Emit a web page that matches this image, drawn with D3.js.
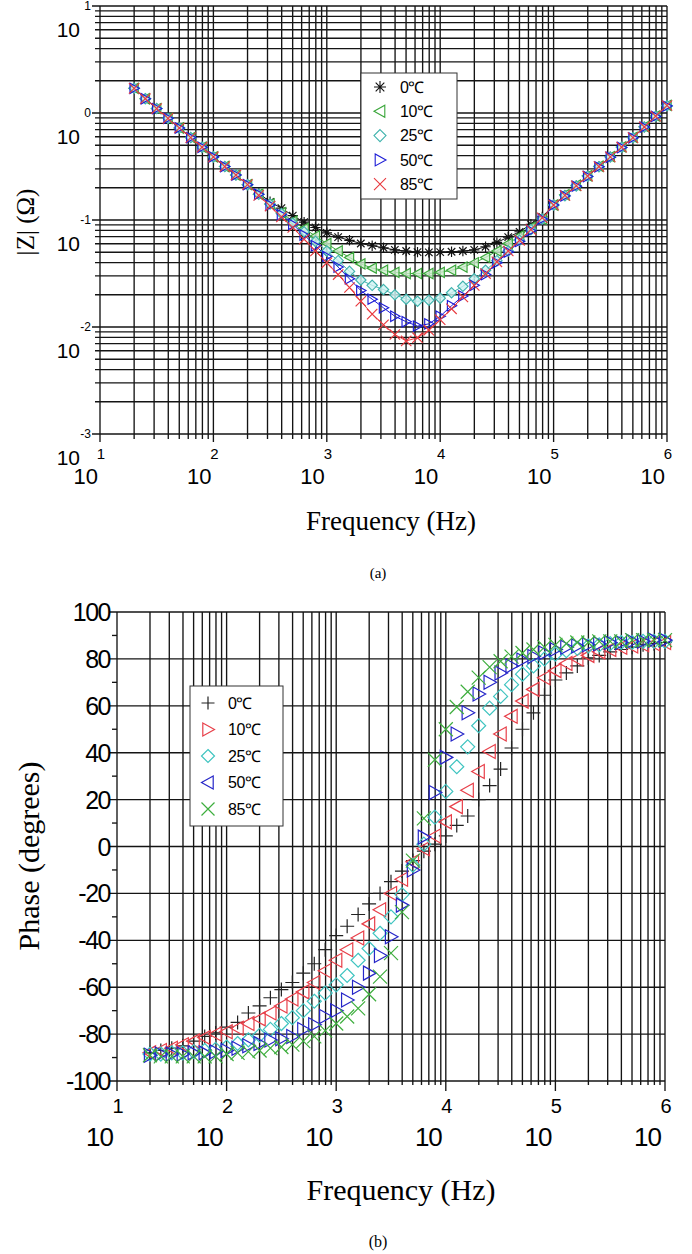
<!DOCTYPE html>
<html>
<head>
<meta charset="utf-8">
<script src="https://cdn.jsdelivr.net/npm/d3@7"></script>
<style>
  body { margin: 0; background: #fff; }
  svg { display: block; }
</style>
</head>
<body>
<div id="container"></div>
<script>
let w = 692;
let h = 1254;

// measurement frequencies (Hz), 10 points per decade
let freq = [20, 25.1, 31.6, 39.8, 50.1, 63.1, 79.4,
  100, 126, 158, 200, 251, 316, 398, 501, 631, 794,
  1000, 1259, 1585, 1995, 2512, 3162, 3981, 5012, 6310, 7943,
  10000, 12589, 15849, 19953, 25119, 31623, 39811, 50119, 63096, 79433,
  100000, 125893, 158489, 199526, 251189, 316228, 398107, 501187, 630957, 794328,
  1000000];

let temps = ["0℃", "10℃", "25℃", "50℃", "85℃"];

// |Z| in ohm, one array per temperature
let z0 = [1.70, 1.36, 1.10, 0.891, 0.724, 0.589, 0.479, 0.389, 0.316, 0.263, 0.214,
  0.178, 0.148, 0.129, 0.110, 0.0955, 0.0851, 0.0759, 0.0692, 0.0646, 0.0603, 0.0575, 0.0550, 0.0525, 0.0513,
  0.0501, 0.0498, 0.0501, 0.0505, 0.0513, 0.0525, 0.0562, 0.0617, 0.0692, 0.0776, 0.0912, 0.107, 0.138,
  0.170, 0.209, 0.257, 0.316, 0.389, 0.479, 0.589, 0.741, 0.933, 1.175];
let z10 = [1.70, 1.36, 1.10, 0.891, 0.724, 0.589, 0.479, 0.389, 0.316, 0.263, 0.214,
  0.174, 0.141, 0.117, 0.0977, 0.0832, 0.0708, 0.0603, 0.0513, 0.0447, 0.0389, 0.0355, 0.0339, 0.0324, 0.0316,
  0.0316, 0.0316, 0.0324, 0.0339, 0.0363, 0.0398, 0.0447, 0.0513, 0.0603, 0.0708, 0.0851, 0.102, 0.138,
  0.172, 0.211, 0.259, 0.318, 0.391, 0.482, 0.592, 0.745, 0.938, 1.18];
let z25 = [1.70, 1.36, 1.10, 0.891, 0.724, 0.589, 0.479, 0.389, 0.316, 0.263, 0.214,
  0.174, 0.141, 0.115, 0.0933, 0.0776, 0.0631, 0.0513, 0.0417, 0.0331, 0.0275, 0.0245, 0.0224, 0.0200, 0.0182,
  0.0174, 0.0178, 0.0186, 0.0209, 0.0240, 0.0282, 0.0339, 0.0417, 0.0513, 0.0646, 0.0813, 0.102, 0.138,
  0.169, 0.208, 0.256, 0.315, 0.388, 0.478, 0.588, 0.740, 0.931, 1.17];
let z50 = [1.70, 1.36, 1.10, 0.891, 0.724, 0.589, 0.479, 0.389, 0.316, 0.263, 0.214,
  0.174, 0.138, 0.112, 0.0912, 0.0724, 0.0575, 0.0457, 0.0363, 0.0282, 0.0219, 0.0182, 0.0151, 0.0126, 0.0112,
  0.0102, 0.0107, 0.0126, 0.0158, 0.0195, 0.0245, 0.0309, 0.0398, 0.0501, 0.0631, 0.0794, 0.102, 0.138,
  0.168, 0.207, 0.255, 0.314, 0.386, 0.476, 0.586, 0.738, 0.929, 1.16];
let z85 = [1.70, 1.36, 1.10, 0.891, 0.724, 0.589, 0.479, 0.389, 0.316, 0.263, 0.214,
  0.170, 0.135, 0.107, 0.0851, 0.0661, 0.0513, 0.0398, 0.0309, 0.0234, 0.0174, 0.0132, 0.0105, 0.00851, 0.00741,
  0.00794, 0.00933, 0.0117, 0.0148, 0.0191, 0.0245, 0.0316, 0.0407, 0.0513, 0.0646, 0.0813, 0.105, 0.138,
  0.170, 0.209, 0.257, 0.316, 0.389, 0.479, 0.589, 0.741, 0.933, 1.175];

// phase in degrees
let ph0 = [-88, -87, -86, -85, -83, -81, -79.5,
  -77, -75, -71, -68, -64.5, -61, -58, -54, -50, -44,
  -38, -34, -29, -24.5, -20, -15, -10.5, -6, -2, 1,
  4.5, 9, 13, 20, 26, 33, 42, 50, 57, 64.5,
  71, 74, 77, 80.5, 81.5, 83, 84, 85, 86, 86.5, 87];
let ph10 = [-88, -87, -86, -84.5, -83, -81.5, -80,
  -79, -77.5, -75.5, -73.5, -71, -68, -65, -62, -58, -53,
  -48.5, -44, -39, -33, -27, -20, -14, -6.5, -1, 4.5,
  10.5, 17, 24, 32, 40.5, 48, 55.5, 62, 67, 72,
  75, 78, 80, 81.5, 83, 84, 85, 85.5, 86, 86.5, 87];
let ph25 = [-88.5, -88.5, -88, -88, -87.5, -87, -86.5,
  -85.5, -84, -82.5, -80.5, -78, -75.5, -73, -70, -66, -62.5,
  -59, -55, -48.5, -43.5, -37, -30, -20.5, -8, 1, 12.5,
  23.5, 34, 42.5, 51.5, 59, 64, 69, 73.5, 77, 80,
  82, 83.5, 84.5, 85.5, 86, 86.5, 87, 87, 87.5, 87.5, 87.5];
let ph50 = [-89, -88.5, -88.5, -88.5, -88, -88, -87.5,
  -87, -86, -85, -84, -82.5, -82, -81, -78, -76, -72.5,
  -70, -65.5, -60, -54, -46.5, -38.5, -25, -10, 4, 23,
  38, 48, 57, 65, 70, 74, 77, 79.5, 81, 82.5,
  84, 85, 85.5, 86, 86.5, 87, 87, 87.5, 87.5, 88, 88];
let ph85 = [-89, -89.5, -89.5, -89.5, -89.5, -89.5, -89.5,
  -88.5, -88, -87.5, -87, -86, -85.5, -84.5, -83, -81, -78.5,
  -75.5, -72.5, -69, -63, -55.5, -45.5, -28, -6, 12, 37,
  50, 59.5, 66, 72, 76.5, 79, 81, 82.5, 84, 85,
  86, 86.5, 87, 87, 87.5, 87.5, 87.5, 88, 88, 88, 88];

let freqDecades = [10, 100, 1000, 10000, 100000, 1000000];
let freqExp = ["1", "2", "3", "4", "5", "6"];
let zDecades = [0.001, 0.01, 0.1, 1, 10];
let zExp = ["-3", "-2", "-1", "0", "1"];
let phaseTicks = [-100, -80, -60, -40, -20, 0, 20, 40, 60, 80, 100];
let phaseMinor = [-90, -70, -50, -30, -10, 10, 30, 50, 70, 90];

let sans = "'Liberation Sans', Arial, Helvetica, sans-serif";
let serif = "'Liberation Serif', 'Times New Roman', serif";

let viz = d3.select("#container")
  .append("svg")
  .attr("width", w)
  .attr("height", h)
  .style("background-color", "#fff");

function markerPath(type, r) {
  let k = r * 0.72;
  if (type == "star") {
    return `M${-r},0H${r}M0,${-r}V${r}M${-k},${-k}L${k},${k}M${-k},${k}L${k},${-k}`;
  } else if (type == "plus") {
    return `M${-r},0H${r}M0,${-r}V${r}`;
  } else if (type == "cross") {
    return `M${-r},${-r}L${r},${r}M${-r},${r}L${r},${-r}`;
  } else if (type == "diamond") {
    return `M0,${-r}L${r},0L0,${r}L${-r},0Z`;
  } else if (type == "left") {
    return `M${-r},0L${r * 0.8},${-r}L${r * 0.8},${r}Z`;
  } else {
    return `M${r},0L${-r * 0.8},${-r}L${-r * 0.8},${r}Z`;
  }
}

function isDecade(v) {
  let l = Math.log10(v);
  return Math.abs(l - Math.round(l)) < 1e-6;
}

// ---------------- (a) impedance magnitude ----------------
let magSeries = [
  { name: temps[0], values: z0, type: "star", color: "#111111", fill: "none" },
  { name: temps[1], values: z10, type: "left", color: "#3aa63a", fill: "#cdeccd" },
  { name: temps[2], values: z25, type: "diamond", color: "#3fb3ad", fill: "#cff3f3" },
  { name: temps[3], values: z50, type: "right", color: "#1c1cd6", fill: "none" },
  { name: temps[4], values: z85, type: "cross", color: "#e8393e", fill: "none" }
];

let xA = d3.scaleLog().domain([10, 1e6]).range([100, 667]);
let yA = d3.scaleLog().domain([1e-3, 10]).range([434, 6]);

let gridA = viz.append("g").attr("stroke", "#141414").attr("stroke-width", 1.35);
gridA.selectAll(".vx")
  .data(xA.ticks())
  .enter()
  .append("line")
  .attr("x1", d => xA(d)).attr("x2", d => xA(d))
  .attr("y1", yA(10))
  .attr("y2", d => yA(1e-3) + (isDecade(d) ? 8 : 5));
gridA.selectAll(".hy")
  .data(yA.ticks())
  .enter()
  .append("line")
  .attr("y1", d => yA(d)).attr("y2", d => yA(d))
  .attr("x1", d => xA(10) - (isDecade(d) ? 8 : 5))
  .attr("x2", xA(1e6));

// y tick labels: 10 with exponent
viz.selectAll(".yexpA")
  .data(zDecades)
  .enter()
  .append("text")
  .attr("x", 91)
  .attr("y", d => yA(d))
  .attr("dy", "0.35em")
  .attr("text-anchor", "end")
  .attr("font-family", sans)
  .attr("font-size", "12px")
  .text((d, i) => zExp[i]);
viz.selectAll(".ybaseA")
  .data(zDecades)
  .enter()
  .append("text")
  .attr("x", 80)
  .attr("y", d => yA(d) + 24)
  .attr("dy", "0.35em")
  .attr("text-anchor", "end")
  .attr("font-family", sans)
  .attr("font-size", "21px")
  .text("10");

// x tick labels
viz.selectAll(".xexpA")
  .data(freqDecades)
  .enter()
  .append("text")
  .attr("x", d => xA(d) + 1)
  .attr("y", 454)
  .attr("dy", "0.35em")
  .attr("text-anchor", "middle")
  .attr("font-family", sans)
  .attr("font-size", "15px")
  .text((d, i) => freqExp[i]);
viz.selectAll(".xbaseA")
  .data(freqDecades)
  .enter()
  .append("text")
  .attr("x", d => xA(d) - 2)
  .attr("y", 476)
  .attr("dy", "0.35em")
  .attr("text-anchor", "end")
  .attr("font-family", sans)
  .attr("font-size", "22px")
  .text("10");

// series lines and markers
let lineA = (vals) => d3.line()
  .x((d, i) => xA(freq[i]))
  .y(d => yA(d))(vals);

magSeries.forEach(s => {
  viz.append("path")
    .attr("d", lineA(s.values))
    .attr("fill", "none")
    .attr("stroke", s.color)
    .attr("stroke-width", 1);
});
magSeries.forEach(s => {
  viz.append("g")
    .selectAll("path")
    .data(s.values)
    .enter()
    .append("path")
    .attr("transform", (d, i) => "translate(" + xA(freq[i]) + "," + yA(d) + ")")
    .attr("d", markerPath(s.type, 5.2))
    .attr("fill", s.fill)
    .attr("fill-opacity", 0.8)
    .attr("stroke", s.color)
    .attr("stroke-width", 1.15);
});

// legend (a)
let legA = viz.append("g").attr("transform", "translate(361,73)");
legA.append("rect")
  .attr("width", 96).attr("height", 126)
  .attr("fill", "#fff").attr("stroke", "#333").attr("stroke-width", 1);
magSeries.forEach((s, i) => {
  let yy = 14 + i * 24.3;
  legA.append("path")
    .attr("transform", "translate(19," + yy + ")")
    .attr("d", markerPath(s.type, 6))
    .attr("fill", "none")
    .attr("stroke", s.color)
    .attr("stroke-width", 1.1);
  legA.append("text")
    .attr("x", 39).attr("y", yy)
    .attr("dy", "0.35em")
    .attr("font-family", sans)
    .attr("font-size", "16px")
    .attr("letter-spacing", "-0.5")
    .text(s.name);
});

viz.append("text")
  .attr("transform", "translate(34,222) rotate(-90)")
  .attr("text-anchor", "middle")
  .attr("font-family", serif)
  .attr("font-size", "25px")
  .text("|Z| (Ω)");
viz.append("text")
  .attr("x", 391).attr("y", 530)
  .attr("text-anchor", "middle")
  .attr("font-family", serif)
  .attr("font-size", "27px")
  .text("Frequency (Hz)");
viz.append("text")
  .attr("x", 378).attr("y", 578)
  .attr("text-anchor", "middle")
  .attr("font-family", serif)
  .attr("font-size", "15px")
  .text("(a)");

// ---------------- (b) phase ----------------
let phaseSeries = [
  { name: temps[0], values: ph0, type: "plus", legendType: "plus", color: "#222222" },
  { name: temps[1], values: ph10, type: "left", legendType: "right", color: "#e8404a" },
  { name: temps[2], values: ph25, type: "diamond", legendType: "diamond", color: "#3fc4c0" },
  { name: temps[3], values: ph50, type: "right", legendType: "left", color: "#2626c8" },
  { name: temps[4], values: ph85, type: "cross", legendType: "cross", color: "#3eae3e" }
];

let xB = d3.scaleLog().domain([10, 1e6]).range([117, 665]);
let yB = d3.scaleLinear().domain([-100, 100]).range([1081, 612]);

let gridB = viz.append("g").attr("stroke", "#141414").attr("stroke-width", 1.35);
gridB.selectAll(".vx")
  .data(xB.ticks())
  .enter()
  .append("line")
  .attr("x1", d => xB(d)).attr("x2", d => xB(d))
  .attr("y1", yB(100))
  .attr("y2", d => yB(-100) + (isDecade(d) ? 10 : 4));
gridB.selectAll(".hy")
  .data(phaseTicks)
  .enter()
  .append("line")
  .attr("y1", d => yB(d)).attr("y2", d => yB(d))
  .attr("x1", xB(10) - 7)
  .attr("x2", xB(1e6));
gridB.selectAll(".minor")
  .data(phaseMinor)
  .enter()
  .append("line")
  .attr("y1", d => yB(d)).attr("y2", d => yB(d))
  .attr("x1", xB(10) - 5)
  .attr("x2", xB(10));

viz.selectAll(".ylabB")
  .data(phaseTicks)
  .enter()
  .append("text")
  .attr("x", 110)
  .attr("y", d => yB(d))
  .attr("dy", "0.36em")
  .attr("text-anchor", "end")
  .attr("font-family", sans)
  .attr("font-size", "25px")
  .attr("letter-spacing", "-1.5")
  .text(d => d);

viz.selectAll(".xexpB")
  .data(freqDecades)
  .enter()
  .append("text")
  .attr("x", d => xB(d) + 1)
  .attr("y", 1106)
  .attr("dy", "0.35em")
  .attr("text-anchor", "middle")
  .attr("font-family", sans)
  .attr("font-size", "20px")
  .text((d, i) => freqExp[i]);
viz.selectAll(".xbaseB")
  .data(freqDecades)
  .enter()
  .append("text")
  .attr("x", d => xB(d) - 4)
  .attr("y", 1137)
  .attr("dy", "0.35em")
  .attr("text-anchor", "end")
  .attr("font-family", sans)
  .attr("font-size", "26px")
  .attr("letter-spacing", "-1")
  .text("10");

phaseSeries.forEach(s => {
  viz.append("g")
    .selectAll("path")
    .data(s.values)
    .enter()
    .append("path")
    .attr("transform", (d, i) => "translate(" + xB(freq[i]) + "," + yB(d) + ")")
    .attr("d", markerPath(s.type, 7))
    .attr("fill", "none")
    .attr("stroke", s.color)
    .attr("stroke-width", 1.2);
});

// legend (b)
let legB = viz.append("g").attr("transform", "translate(190,686)");
legB.append("rect")
  .attr("width", 93).attr("height", 140)
  .attr("fill", "#fff").attr("stroke", "#333").attr("stroke-width", 1);
phaseSeries.forEach((s, i) => {
  let yy = 17 + i * 26.5;
  legB.append("path")
    .attr("transform", "translate(18," + yy + ")")
    .attr("d", markerPath(s.legendType, 6.5))
    .attr("fill", "none")
    .attr("stroke", s.color)
    .attr("stroke-width", 1.2);
  legB.append("text")
    .attr("x", 38).attr("y", yy)
    .attr("dy", "0.35em")
    .attr("font-family", sans)
    .attr("font-size", "16px")
    .attr("letter-spacing", "-0.5")
    .text(s.name);
});

viz.append("text")
  .attr("transform", "translate(39,856) rotate(-90)")
  .attr("text-anchor", "middle")
  .attr("font-family", serif)
  .attr("font-size", "30px")
  .text("Phase (degrees)");
viz.append("text")
  .attr("x", 401).attr("y", 1200)
  .attr("text-anchor", "middle")
  .attr("font-family", serif)
  .attr("font-size", "30px")
  .text("Frequency (Hz)");
viz.append("text")
  .attr("x", 378).attr("y", 1247)
  .attr("text-anchor", "middle")
  .attr("font-family", serif)
  .attr("font-size", "16px")
  .text("(b)");
</script>
</body>
</html>
